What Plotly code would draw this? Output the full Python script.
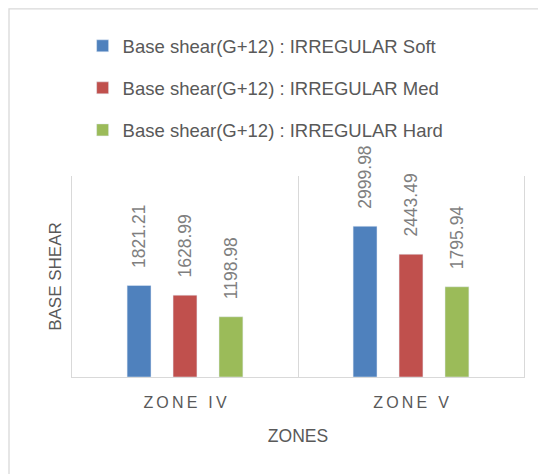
import plotly.graph_objects as go

categories = ["ZONE IV", "ZONE V"]
tick_labels = ["Z\u2009O\u2009N\u2009E\u2009 \u2009I\u2009V", "Z\u2009O\u2009N\u2009E\u2009 \u2009V"]
series_names = [
    "Base shear(G+12) : IRREGULAR Soft",
    "Base shear(G+12) : IRREGULAR Med",
    "Base shear(G+12) : IRREGULAR Hard",
]
soft = [1821.21, 2999.98]
med = [1628.99, 2443.49]
hard = [1198.98, 1795.94]
colors = ["#4F81BD", "#C0504D", "#9BBB59"]

FONT = "Liberation Sans"
fig = go.Figure()
for i, (name, vals, col) in enumerate(zip(series_names, [soft, med, hard], colors)):
    fig.add_trace(go.Bar(
        x=categories, y=vals, name=name, legendgroup=str(i),
        marker=dict(color=col),
        text=["\u00a0\u00a0\u00a0" + f"{v:.2f}" for v in vals],
        textposition="outside", textangle=-90, constraintext="none",
        textfont=dict(family=FONT, size=17.5, color="#7f7f7f"),
        cliponaxis=False,
    ))

fig.update_layout(
    width=538, height=466,
    margin=dict(l=64, r=22, t=168, b=97),
    paper_bgcolor="white", plot_bgcolor="white",
    barmode="group", bargap=0.39, bargroupgap=0.48,
    font=dict(family=FONT, color="#595959"),
    showlegend=True,
    legend=dict(
        x=0.0235, y=1.74, xanchor="left", yanchor="top",
        font=dict(family=FONT, size=18.5, color="#595959"),
        tracegroupgap=15, bgcolor="rgba(0,0,0,0)",
    ),
    xaxis=dict(
        type="category", tickson="boundaries", showgrid=True, gridcolor="#d9d9d9",
        gridwidth=1.3, showline=True, linecolor="#d9d9d9", linewidth=1.3, ticks="",
        tickvals=categories, ticktext=tick_labels, ticklabelstandoff=11,
        tickfont=dict(family=FONT, size=16, color="#595959"),
        title=dict(text="ZONES", font=dict(family=FONT, size=17.5, color="#595959"), standoff=19),
    ),
    yaxis=dict(
        range=[0, 4000], showticklabels=False, showgrid=False, zeroline=False,
        showline=True, mirror=True, linecolor="#d9d9d9", linewidth=1.3,
        title=dict(text="BASE SHEAR", font=dict(family=FONT, size=17, color="#595959"), standoff=4),
    ),
    shapes=[dict(type="rect", xref="paper", yref="paper", x0=-0.1394, x1=1.06, y0=-0.52, y1=1.831,
                 line=dict(color="#d9d9d9", width=1.3), fillcolor="rgba(0,0,0,0)", layer="below")],
)

fig.write_html("out.html")
